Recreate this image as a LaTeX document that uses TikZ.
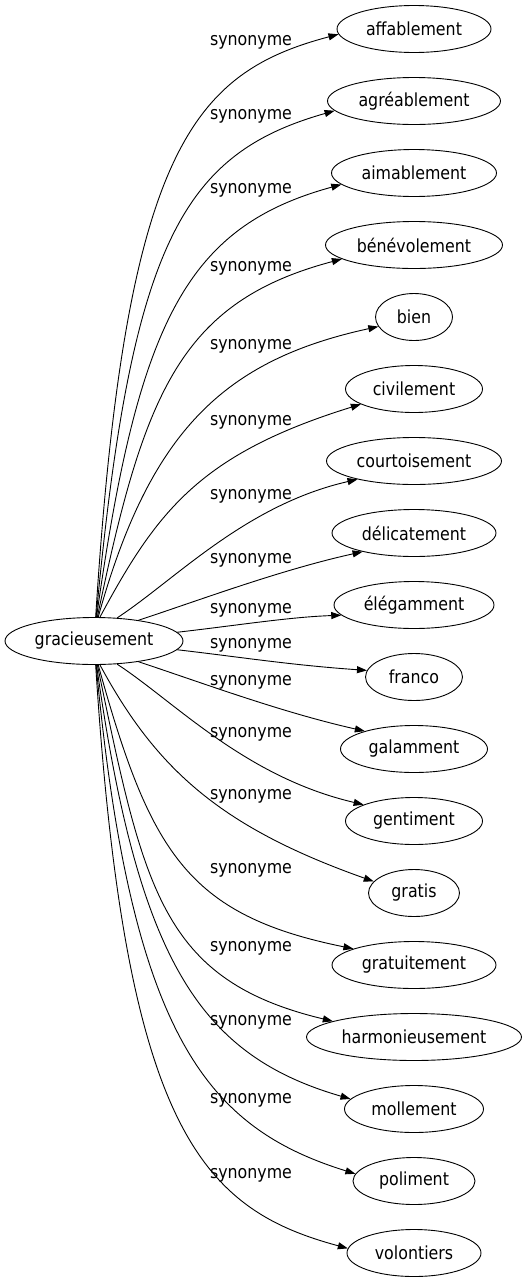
\documentclass[tikz,border=0pt]{standalone}
\usepackage{fontspec}
\setmainfont{DejaVu Sans}[FakeStretch=0.88]
\usetikzlibrary{shapes.geometric,arrows.meta}
\begin{document}
\begin{tikzpicture}[x=1pt,y=-1pt,
  font=\fontsize{18}{21}\selectfont,
  word/.style={ellipse, draw, line width=0.9pt, inner sep=0pt, minimum height=47pt},
  lab/.style={inner sep=0pt},
  syn/.style={-{Triangle[length=10pt,width=7pt]}, line width=0.9pt}]
\useasboundingbox (0,0) rectangle (526,1283);
\node[word, minimum width=178pt] (c) at (94,641) {gracieusement};
\node[word, minimum width=154pt] (n1) at (414,29) {affablement};
\node[word, minimum width=173pt] (n2) at (414,101) {agréablement};
\node[word, minimum width=165pt] (n3) at (414,173) {aimablement};
\node[word, minimum width=177pt] (n4) at (414,245) {bénévolement};
\node[word, minimum width=77pt] (n5) at (414,317) {bien};
\node[word, minimum width=137pt] (n6) at (414,389) {civilement};
\node[word, minimum width=175pt] (n7) at (414,461) {courtoisement};
\node[word, minimum width=164pt] (n8) at (414,533) {délicatement};
\node[word, minimum width=160pt] (n9) at (414,605) {élégamment};
\node[word, minimum width=97pt] (n10) at (414,677) {franco};
\node[word, minimum width=147pt] (n11) at (414,749) {galamment};
\node[word, minimum width=137pt] (n12) at (414,821) {gentiment};
\node[word, minimum width=91pt] (n13) at (414,893) {gratis};
\node[word, minimum width=164pt] (n14) at (414,965) {gratuitement};
\node[word, minimum width=215pt] (n15) at (414,1037) {harmonieusement};
\node[word, minimum width=139pt] (n16) at (414,1109) {mollement};
\node[word, minimum width=122pt] (n17) at (414,1181) {poliment};
\node[word, minimum width=134pt] (n18) at (414,1253) {volontiers};
% labels
\node[lab] (l1) at (251,42) {synonyme};
\node[lab] (l2) at (251,116) {synonyme};
\node[lab] (l3) at (251,190) {synonyme};
\node[lab] (l4) at (251,268) {synonyme};
\node[lab] (l5) at (251,346) {synonyme};
\node[lab] (l6) at (251,422) {synonyme};
\node[lab] (l7) at (251,496) {synonyme};
\node[lab] (l8) at (251,560) {synonyme};
\node[lab] (l9) at (251,610) {synonyme};
\node[lab] (l10) at (251,645) {synonyme};
\node[lab] (l11) at (251,682) {synonyme};
\node[lab] (l12) at (251,734) {synonyme};
\node[lab] (l13) at (251,796) {synonyme};
\node[lab] (l14) at (251,870) {synonyme};
\node[lab] (l15) at (251,948) {synonyme};
\node[lab] (l16) at (251,1022) {synonyme};
\node[lab] (l17) at (251,1100) {synonyme};
\node[lab] (l18) at (251,1175) {synonyme};
% edges
\draw[syn] (c.86) .. controls (125,151) and (192,73) .. (n1.184);
\draw[syn] (c.85) .. controls (131,244) and (182,154) .. (n2.187);
\draw[syn] (c.84) .. controls (138,322) and (186,227) .. (n3.189);
\draw[syn] (c.82) .. controls (144,393) and (180,302) .. (n4.191);
\draw[syn] (c.80) .. controls (150,430) and (225,360) .. (n5.195);
\draw[syn] (c.76) .. controls (157,511) and (200,454) .. (n6.196);
\draw[syn] (c.45) .. controls (175,580) and (245,505) .. (n7.198);
\draw[syn] (c.25) .. controls (200,600) and (280,570) .. (n8.200);
\draw[syn] (c.6) .. controls (240,625) and (290,617) .. (n9.188);
\draw[syn] (c.-6) .. controls (240,657) and (290,665) .. (n10.172);
\draw[syn] (c.-25) .. controls (200,682) and (280,712) .. (n11.160);
\draw[syn] (c.-45) .. controls (175,702) and (245,777) .. (n12.162);
\draw[syn] (c.-76) .. controls (157,771) and (223,828) .. (n13.164);
\draw[syn] (c.-80) .. controls (150,852) and (187,915) .. (n14.165);
\draw[syn] (c.-82) .. controls (144,889) and (161,980) .. (n15.169);
\draw[syn] (c.-84) .. controls (138,960) and (199,1055) .. (n16.171);
\draw[syn] (c.-85) .. controls (131,1038) and (208,1128) .. (n17.173);
\draw[syn] (c.-86) .. controls (125,1131) and (202,1209) .. (n18.176);
\end{tikzpicture}
\end{document}
